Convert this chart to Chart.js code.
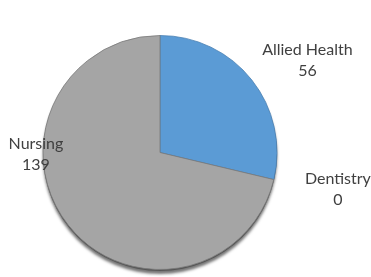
<!DOCTYPE html>
<html>
<head>
<meta charset="utf-8">
<script src="https://cdn.jsdelivr.net/npm/chart.js@4/dist/chart.umd.min.js"></script>
<style>
  html, body { margin: 0; padding: 0; background: #fff; }
  #wrap { width: 371px; height: 277px; }
</style>
</head>
<body>
<div id="wrap"><canvas id="pieChart" width="371" height="277"></canvas></div>
<script>
// chart data
var categories = ["Allied Health", "Dentistry", "Nursing"];
var counts = [56, 0, 139];
var sliceColors = ["#5B9BD5", "#ED7D31", "#A5A5A5"];
var sliceBorders = ["#4A80B2", "#ED7D31", "#7A7A7A"];

// where each label sits, relative to the pie centre (in radii)
var labelOffsets = [[1.26, -0.78], [1.52, 0.32], [-1.06, 0.02]];

// dark rim under the pie, like the office-style shadow
var shadowPlugin = {
  id: "pieShadow",
  beforeDatasetsDraw: function (chart) {
    var arc = chart.getDatasetMeta(0).data[0];
    if (!arc) return;
    var ctx = chart.ctx;
    ctx.save();
    ctx.shadowColor = "rgba(0,0,0,0.55)";
    ctx.shadowBlur = 3;
    ctx.shadowOffsetY = 3;
    ctx.fillStyle = "#555";
    ctx.beginPath();
    ctx.arc(arc.x, arc.y + 1.5, arc.outerRadius, 0, Math.PI * 2);
    ctx.fill();
    ctx.restore();
  }
};

var labelPlugin = {
  id: "sliceLabels",
  afterDatasetsDraw: function (chart) {
    var meta = chart.getDatasetMeta(0);
    var ctx = chart.ctx;
    ctx.save();
    ctx.font = "16px Lato, sans-serif";
    ctx.fillStyle = "#404040";
    ctx.textAlign = "center";
    ctx.textBaseline = "middle";
    meta.data.forEach(function (arc, i) {
      var r = arc.outerRadius;
      var x = arc.x + labelOffsets[i][0] * r;
      var y = arc.y + labelOffsets[i][1] * r;
      ctx.fillText(categories[i], x, y - 11);
      ctx.fillText(String(counts[i]), x, y + 10);
    });
    ctx.restore();
  }
};

window.onload = function () {
  var ctxPie = document.getElementById("pieChart").getContext("2d");
  var pieChart = new Chart(ctxPie, {
    type: "pie",
    data: {
      labels: categories,
      datasets: [
        {
          data: counts,
          backgroundColor: sliceColors,
          borderColor: sliceBorders,
          borderWidth: 0.8,
        },
      ],
    },
    options: {
      responsive: false,
      animation: false,
      radius: 117,
      layout: {
        padding: { left: 43, right: 94, top: 36, bottom: 8 },
      },
      plugins: {
        legend: { display: false },
        tooltip: { enabled: false },
      },
    },
    plugins: [shadowPlugin, labelPlugin],
  });
};
</script>
</body>
</html>
